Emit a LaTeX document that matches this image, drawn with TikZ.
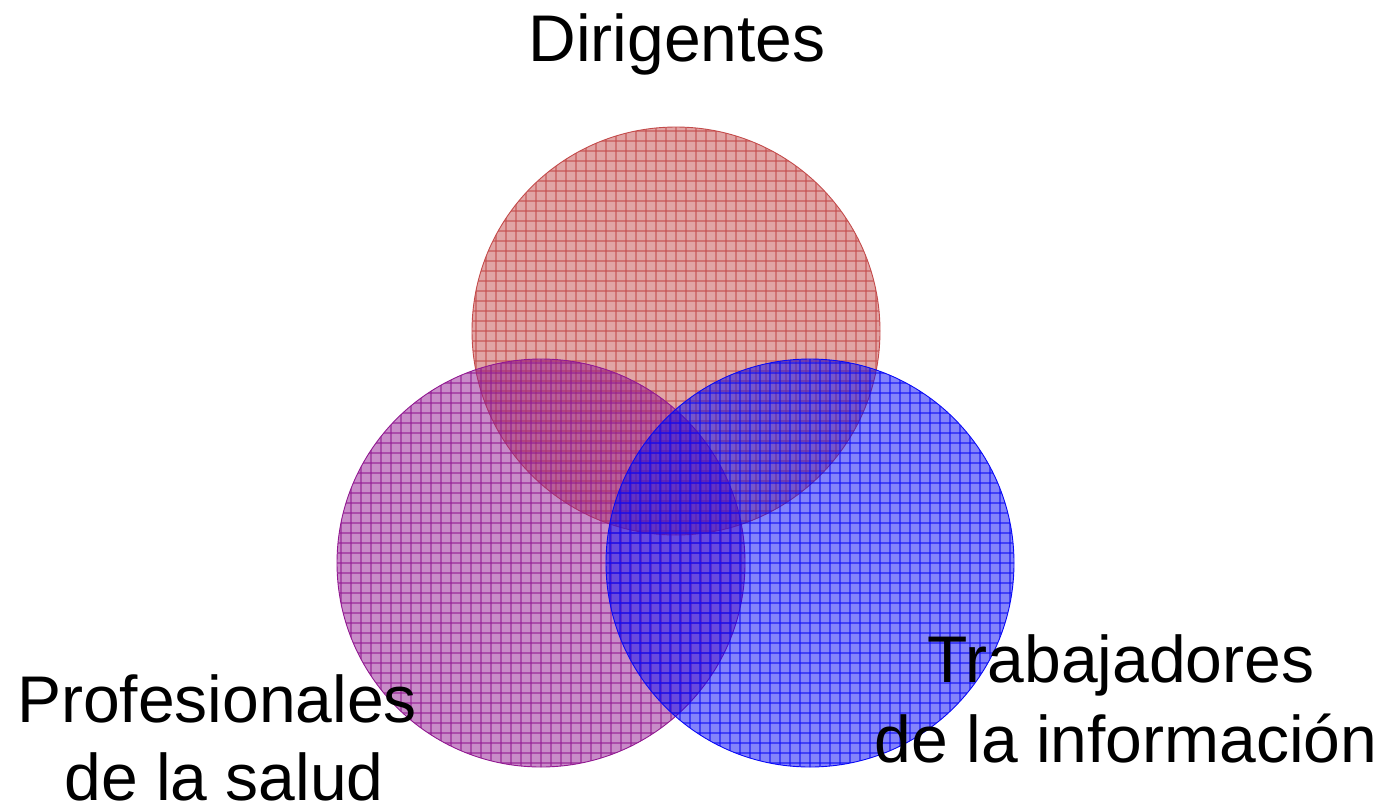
\documentclass[tikz,border=0pt]{standalone}
\usepackage{fontspec}
\setmainfont{Liberation Sans}
\usetikzlibrary{calc}
\definecolor{redbase}{RGB}{195,75,75}
\definecolor{purplebase}{RGB}{145,25,145}
\definecolor{bluebase}{RGB}{10,10,245}
\tikzset{
  vennset/.style={circle, minimum size=408pt, inner sep=0pt, draw=#1, line width=0.9pt,
    fill=#1, fill opacity=0.5,
    path picture={
      \foreach \k in {-21,...,21}{
        \draw[#1, line width=1.1pt, draw opacity=0.55]
          ($(path picture bounding box.center)+(\k*10pt,-215pt)$) -- ++(0pt,430pt);
        \draw[#1, line width=1.1pt, draw opacity=0.55]
          ($(path picture bounding box.center)+(-215pt,\k*10pt)$) -- ++(430pt,0pt);
      }
    }},
  label/.style={anchor=base, inner sep=0pt, font=\fontsize{66}{80}\selectfont, text=black}
}
\begin{document}
\begin{tikzpicture}[x=1pt,y=-1pt]
\useasboundingbox (0,0) rectangle (1388,806);
\node[vennset=redbase] (dir) at (676,331) {};
\node[vennset=purplebase] (prof) at (541,563) {};
\node[vennset=bluebase] (trab) at (810,563) {};
\node[label] (tdir) at (677,61) {Dirigentes};
\node[label] (ttrab1) at (1121,682) {Trabajadores};
\node[label] (ttrab2) at (1126,762) {de la información};
\node[label] (tprof1) at (217,722) {Profesionales};
\node[label] (tprof2) at (224,800) {de la salud};
\end{tikzpicture}
\end{document}
